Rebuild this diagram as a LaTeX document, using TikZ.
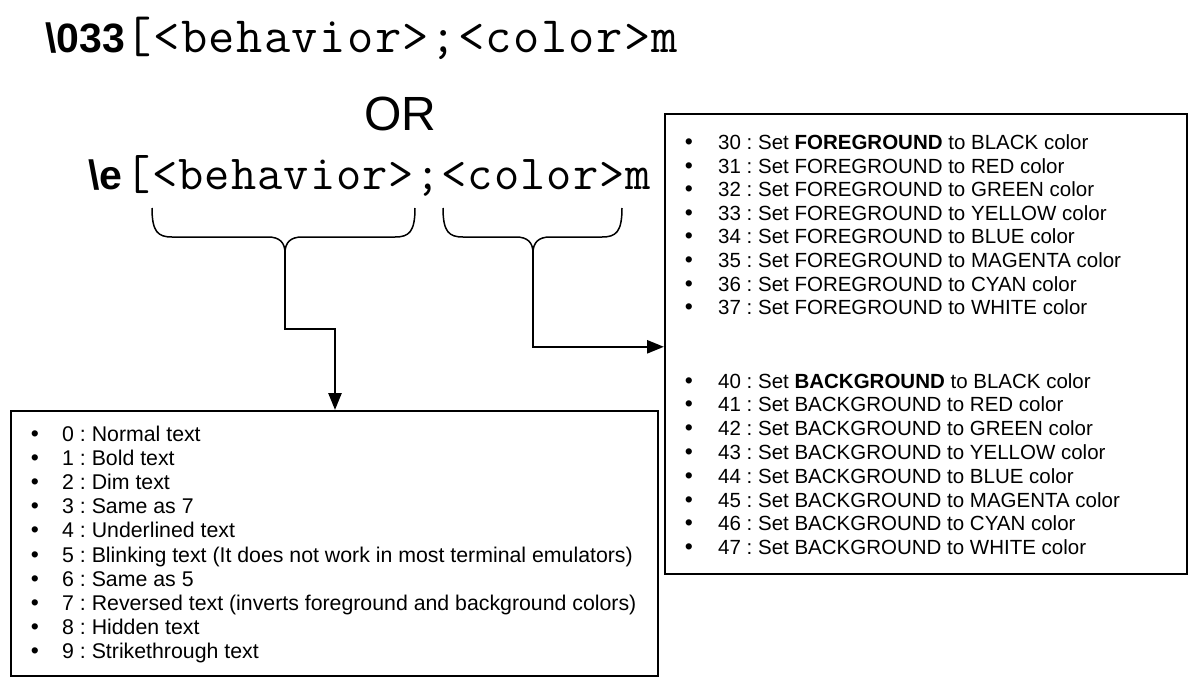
\documentclass[tikz,border=0pt]{standalone}
\usepackage{fontspec}
\setmainfont{Liberation Sans}
\usetikzlibrary{arrows.meta}
\newlength\cw
\def\monoloop#1{\ifx#1\relax\else\makebox[\cw][c]{#1}\expandafter\monoloop\fi}
\newcommand\monotext[3]{\setlength\cw{#1}{\ttfamily\fontsize{#2}{#2}\selectfont\monoloop#3\relax}}
\begin{document}
\frenchspacing
\begin{tikzpicture}[x=1pt,y=-1pt]
\useasboundingbox (0,0) rectangle (1195,683);
\tikzset{
  box/.style={draw, line width=1.6pt, anchor=north west, inner sep=0pt},
  conn/.style={line width=2.6pt, -{Triangle[length=17pt,width=13pt]}},
  bracepath/.style={line width=1.5pt},
  itemL/.style={anchor=base west, inner sep=0pt, font=\fontsize{21.3}{24}\selectfont},
  itemR/.style={anchor=base west, inner sep=0pt, font=\fontsize{20.5}{24}\selectfont},
  bul/.style={anchor=base, inner sep=0pt, font=\fontsize{23}{24}\selectfont},
  codebold/.style={anchor=base west, inner sep=0pt},
}
% code lines
\node[codebold] (l1) at (45,52) {{\bfseries\fontsize{41}{41}\selectfont\textbackslash033}\monotext{27.7pt}{51}{[<behavior>;<color>m}};
\node[inner sep=0pt, anchor=base] (or) at (400,130) {\fontsize{48}{48}\selectfont OR};
\node[codebold] (l2) at (88,189) {{\bfseries\fontsize{41}{41}\selectfont\textbackslash e}\hspace{3pt}\monotext{26.3pt}{49}{[<behavior>;<color>m}};

% boxes
\node[box, minimum width=647pt, minimum height=265pt] (beh) at (10,410) {};
\node[box, minimum width=522pt, minimum height=460pt] (col) at (664,113) {};

% braces
\coordinate (bt) at (285,253);
\coordinate (ct) at (533,253);
\draw[bracepath] (152,208) .. controls (152,232) and (158,237) .. (172,237) -- (268,237) .. controls (279,237) and (285,242) .. (bt);
\draw[bracepath] (415,208) .. controls (415,232) and (409,237) .. (395,237) -- (302,237) .. controls (291,237) and (285,242) .. (bt);
\draw[bracepath] (443,208) .. controls (443,232) and (449,237) .. (463,237) -- (516,237) .. controls (527,237) and (533,242) .. (ct);
\draw[bracepath] (622,208) .. controls (622,232) and (616,237) .. (602,237) -- (550,237) .. controls (539,237) and (533,242) .. (ct);

% connectors
\coordinate (k1) at (335,329);
\draw[conn] (bt) |- (k1) -- (k1 |- beh.north);
\draw[conn] (ct) |- ([yshift=-3pt]col.west);

% behavior list
\foreach \t [count=\i from 0] in {0 : Normal text, 1 : Bold text, 2 : Dim text, 3 : Same as 7, 4 : Underlined text,
  5 : Blinking text (It does not work in most terminal emulators), 6 : Same as 5,
  7 : Reversed text (inverts foreground and background colors), 8 : Hidden text, 9 : Strikethrough text}{
  \node[bul] (bb\i) at (35,{441.5+24.1*\i}) {\textbullet};
  \node[itemL] (bi\i) at (62,{441.5+24.1*\i}) {\t};
}

% colour list
\node[bul] (cb0) at (689,149.5) {\textbullet};
\node[itemR] (ci0) at (718,149.5) {30 : Set \textbf{FOREGROUND} to BLACK color};
\foreach \n/\c [count=\i from 1] in {31/RED,32/GREEN,33/YELLOW,34/BLUE,35/MAGENTA,36/CYAN,37/WHITE}{
  \node[bul] (cb\i) at (689,{149.5+23.6*\i}) {\textbullet};
  \node[itemR] (ci\i) at (718,{149.5+23.6*\i}) {\n\ : Set FOREGROUND to \c\ color};
}
\node[bul] (db0) at (689,388) {\textbullet};
\node[itemR] (di0) at (718,388) {40 : Set \textbf{BACKGROUND} to BLACK color};
\foreach \n/\c [count=\i from 1] in {41/RED,42/GREEN,43/YELLOW,44/BLUE,45/MAGENTA,46/CYAN,47/WHITE}{
  \node[bul] (db\i) at (689,{388+23.8*\i}) {\textbullet};
  \node[itemR] (di\i) at (718,{388+23.8*\i}) {\n\ : Set BACKGROUND to \c\ color};
}
\end{tikzpicture}
\end{document}
